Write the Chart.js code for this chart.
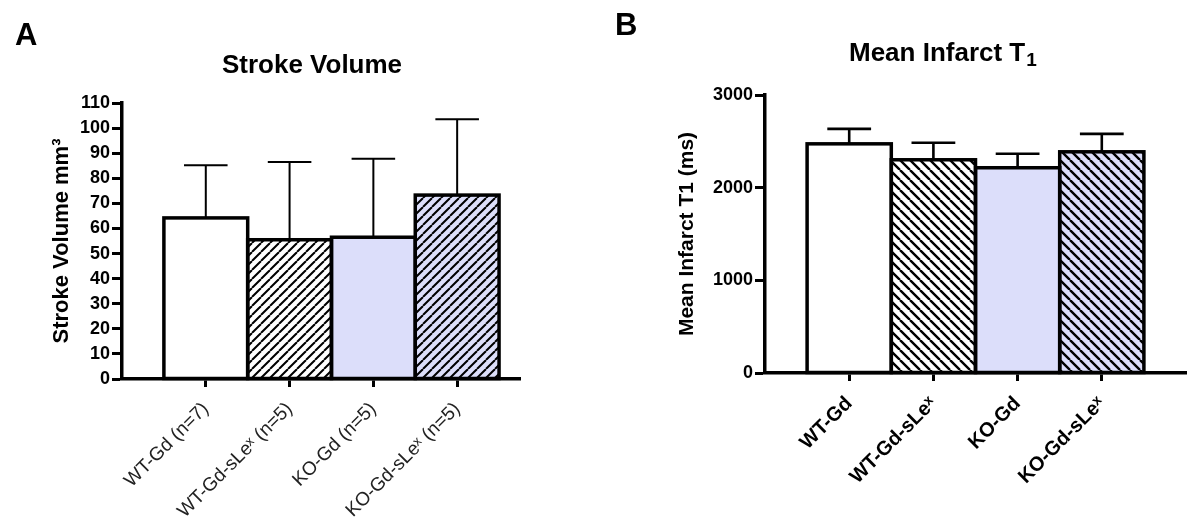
<!DOCTYPE html>
<html>
<head>
<meta charset="utf-8">
<script src="https://cdn.jsdelivr.net/npm/chart.js@4.4.1/dist/chart.umd.min.js"></script>
<style>
    html, body { margin: 0; padding: 0; background: #fff; }
    #wrap { position: relative; width: 1200px; height: 527px; }
    #chartA { position: absolute; left: 0; top: 0; }
    #chartB { position: absolute; left: 600px; top: 0; }
</style>
</head>
<body>
<div id="wrap">
    <canvas id="chartA" width="600" height="527"></canvas>
    <canvas id="chartB" width="600" height="527"></canvas>
</div>
<script>
// Panel A - stroke volume (mean + SD)
const groupsA = ['WT-Gd (n=7)', 'WT-Gd-sLeˣ (n=5)', 'KO-Gd (n=5)', 'KO-Gd-sLeˣ (n=5)'];
const volumeMean = [64.2, 55.5, 56.5, 73.3];
const volumeErr = [21.0, 31.0, 31.3, 30.2];
const volumeTicks = [0, 10, 20, 30, 40, 50, 60, 70, 80, 90, 100, 110];

// Panel B - mean infarct T1
const groupsB = ['WT-Gd', 'WT-Gd-sLeˣ', 'KO-Gd', 'KO-Gd-sLeˣ'];
const t1Mean = [2473, 2301, 2215, 2387];
const t1Err = [161, 183, 151, 194];
const t1Ticks = [0, 1000, 2000, 3000];

const FONT = '"Liberation Sans", Arial, Helvetica, sans-serif';
const LAVENDER = '#dcdefa';
Chart.defaults.font.family = FONT;
Chart.defaults.color = '#000';

// Diagonal hatch fill, dir '/' or '\'
function hatch(bg, dir, size, lw) {
    const c = document.createElement('canvas');
    c.width = c.height = size;
    const g = c.getContext('2d');
    g.fillStyle = bg;
    g.fillRect(0, 0, size, size);
    g.strokeStyle = '#000';
    g.lineWidth = lw;
    g.beginPath();
    if (dir === '/') {
        [0, size, 2 * size].forEach(k => { g.moveTo(k, 0); g.lineTo(k - size, size); });
    } else {
        [-size, 0, size].forEach(k => { g.moveTo(k, 0); g.lineTo(k + size, size); });
    }
    g.stroke();
    return g.createPattern(c, 'repeat');
}

// Error bars (upper only) and bar outlines that share edges
const barDecor = {
    id: 'barDecor',
    afterDatasetsDraw(chart, args, opts) {
        const ctx = chart.ctx;
        const yScale = chart.scales.y;
        const meta = chart.getDatasetMeta(0);
        const values = chart.data.datasets[0].data;
        ctx.save();
        ctx.strokeStyle = '#000';
        ctx.lineWidth = opts.errWidth;
        meta.data.forEach((bar, i) => {
            const p = bar.getProps(['x', 'y', 'width'], true);
            const top = yScale.getPixelForValue(values[i].y + opts.errors[i]);
            const cap = p.width * 0.52 / 2;
            ctx.beginPath();
            ctx.moveTo(p.x, p.y);
            ctx.lineTo(p.x, top);
            ctx.moveTo(p.x - cap, top);
            ctx.lineTo(p.x + cap, top);
            ctx.stroke();
        });
        ctx.lineWidth = opts.borderWidth;
        meta.data.forEach(bar => {
            const p = bar.getProps(['x', 'y', 'base', 'width'], true);
            ctx.strokeRect(p.x - p.width / 2, p.y, p.width, p.base - p.y);
        });
        ctx.restore();
    }
};

// Panel letter and chart title
const panelText = {
    id: 'panelText',
    afterDraw(chart, args, opts) {
        const ctx = chart.ctx;
        ctx.save();
        ctx.fillStyle = '#000';
        ctx.textBaseline = 'alphabetic';
        ctx.textAlign = 'left';
        ctx.font = 'bold 31px ' + FONT;
        ctx.fillText(opts.letter, opts.letterX, opts.letterY);
        ctx.font = 'bold 26px ' + FONT;
        let x = opts.titleX;
        if (opts.center) {
            x -= ctx.measureText(opts.title).width / 2;
        }
        ctx.fillText(opts.title, x, opts.titleY);
        if (opts.sub) {
            const w = ctx.measureText(opts.title).width;
            ctx.font = 'bold 19px ' + FONT;
            ctx.fillText(opts.sub, x + w + 1, opts.titleY + 5);
        }
        ctx.restore();
    }
};

function makeChart(id, cfg) {
    const tickGrid = len => ({
        drawOnChartArea: false,
        drawTicks: true,
        offset: false,
        tickLength: len,
        tickWidth: 3,
        tickColor: '#000'
    });
    return new Chart(document.getElementById(id), {
        type: 'bar',
        data: {
            datasets: [{
                data: cfg.means.map((v, i) => ({ x: i + 1, y: v })),
                backgroundColor: cfg.fills,
                borderWidth: 0,
                barPercentage: 1,
                categoryPercentage: 1
            }]
        },
        options: {
            responsive: false,
            animation: false,
            layout: { padding: cfg.padding },
            plugins: {
                legend: { display: false },
                tooltip: { enabled: false },
                barDecor: { errors: cfg.errors, errWidth: cfg.errWidth, borderWidth: 3.5 },
                panelText: cfg.text
            },
            scales: {
                x: {
                    type: 'linear',
                    offset: false,
                    min: 0,
                    max: cfg.xMax,
                    afterBuildTicks: s => { s.ticks = cfg.groups.map((g, i) => ({ value: i + 1 })); },
                    afterFit: s => { s.height = cfg.xHeight; },
                    grid: tickGrid(8),
                    border: { color: '#000', width: 3.5 },
                    ticks: {
                        autoSkip: false,
                        minRotation: 45,
                        maxRotation: 45,
                        padding: 11,
                        color: cfg.xColor,
                        font: cfg.xFont,
                        callback: v => cfg.groups[v - 1]
                    }
                },
                y: {
                    min: cfg.ticks[0],
                    max: cfg.ticks[cfg.ticks.length - 1],
                    afterBuildTicks: s => { s.ticks = cfg.ticks.map(v => ({ value: v })); },
                    afterFit: s => { s.width = cfg.yWidth; },
                    grid: tickGrid(10),
                    border: { color: '#000', width: 3.5 },
                    ticks: {
                        padding: 2,
                        color: '#000',
                        font: { size: 18, weight: 'bold' },
                        callback: v => String(v)
                    },
                    title: {
                        display: true,
                        text: cfg.yTitle,
                        color: '#000',
                        padding: 0,
                        font: { size: cfg.yTitleSize, weight: 'bold' }
                    }
                }
            }
        },
        plugins: [barDecor, panelText]
    });
}

makeChart('chartA', {
    groups: groupsA,
    means: volumeMean,
    errors: volumeErr,
    ticks: volumeTicks,
    fills: ['#ffffff', hatch('#ffffff', '/', 9, 2), LAVENDER, hatch(LAVENDER, '/', 9, 2)],
    errWidth: 2,
    padding: { left: 49, top: 103, right: 80, bottom: 0 },
    xMax: 4.75,
    xHeight: 148,
    yWidth: 73,
    xColor: '#222',
    xFont: { size: 19 },
    yTitle: 'Stroke Volume mm³',
    yTitleSize: 22,
    text: { letter: 'A', letterX: 15, letterY: 45, title: 'Stroke Volume', titleX: 312, titleY: 73, center: true }
});

makeChart('chartB', {
    groups: groupsB,
    means: t1Mean,
    errors: t1Err,
    ticks: t1Ticks,
    fills: ['#ffffff', hatch('#ffffff', '\\', 10, 2.4), LAVENDER, hatch(LAVENDER, '\\', 10, 2.4)],
    errWidth: 2.6,
    padding: { left: 75, top: 95, right: 14, bottom: 0 },
    xMax: 5,
    xHeight: 154,
    yWidth: 90,
    xColor: '#000',
    xFont: { size: 20, weight: 'bold' },
    yTitle: 'Mean Infarct T1 (ms)',
    yTitleSize: 21,
    text: { letter: 'B', letterX: 15, letterY: 35, title: 'Mean Infarct T', sub: '1', titleX: 249, titleY: 61, center: false }
});
</script>
</body>
</html>
